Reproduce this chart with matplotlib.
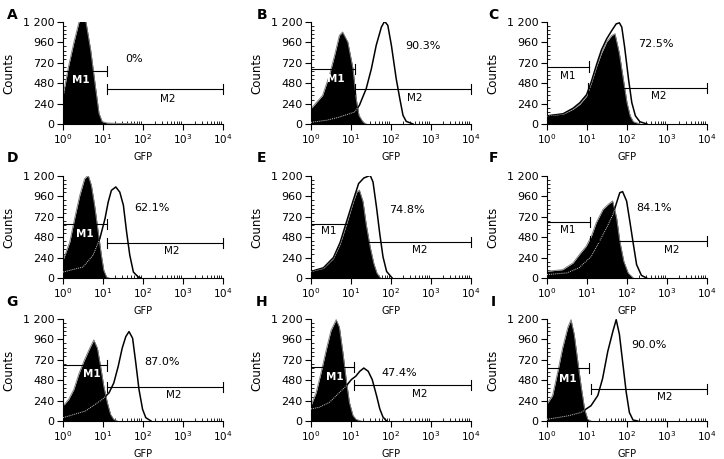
import numpy as np
import matplotlib
matplotlib.use("Agg")
import matplotlib.pyplot as plt
from matplotlib.ticker import FixedLocator, MultipleLocator, LogLocator, NullFormatter

# panel letters, top row first
panels = ["A", "B", "C", "D", "E", "F", "G", "H", "I"]

# control histogram (black filled): log10(GFP) and counts
ctrl_x = {
    "A": [0, 0.14, 0.27, 0.40, 0.44, 0.56, 0.69, 0.81, 0.90, 0.98, 1.10, 1.30, 1.50, 1.74, 1.85],
    "B": [0, 0.29, 0.46, 0.59, 0.71, 0.79, 0.92, 1.05, 1.13, 1.20, 1.30, 1.38],
    "C": [0, 0.40, 0.65, 0.82, 0.99, 1.11, 1.24, 1.36, 1.49, 1.62, 1.70, 1.81, 1.91, 2.00, 2.08, 2.16, 2.33],
    "D": [0, 0.17, 0.29, 0.42, 0.54, 0.63, 0.71, 0.79, 0.88, 0.96, 1.02, 1.09, 1.15],
    "E": [0, 0.31, 0.56, 0.73, 0.90, 1.06, 1.15, 1.21, 1.30, 1.38, 1.48, 1.57, 1.65, 1.74],
    "F": [0, 0.39, 0.65, 0.81, 0.98, 1.11, 1.23, 1.40, 1.53, 1.64, 1.74, 1.82, 1.92, 2.03, 2.16],
    "G": [0, 0.14, 0.27, 0.39, 0.52, 0.65, 0.77, 0.86, 0.94, 1.02, 1.11, 1.19, 1.27, 1.36],
    "H": [0, 0.13, 0.25, 0.38, 0.50, 0.63, 0.71, 0.80, 0.88, 0.96, 1.05, 1.13, 1.25],
    "I": [0, 0.14, 0.27, 0.39, 0.52, 0.60, 0.68, 0.77, 0.85, 0.94, 1.02, 1.10],
}
ctrl_y = {
    "A": [324, 680, 955, 1200, 1240, 1240, 876, 442, 126, 28, 12, 8, 6, 3, 0],
    "B": [180, 337, 573, 808, 1043, 1082, 965, 651, 298, 102, 24, 0],
    "C": [96, 116, 174, 232, 328, 483, 676, 830, 965, 1042, 1062, 830, 521, 251, 96, 27, 0],
    "D": [208, 424, 698, 973, 1169, 1208, 1090, 855, 541, 267, 90, 12, 0],
    "E": [77, 115, 230, 402, 651, 900, 1015, 1034, 900, 632, 364, 172, 57, 0],
    "F": [79, 98, 177, 276, 374, 492, 650, 807, 866, 906, 709, 433, 197, 59, 0],
    "G": [175, 253, 370, 545, 701, 838, 954, 857, 643, 409, 214, 78, 19, 0],
    "H": [181, 335, 565, 835, 1065, 1192, 1104, 796, 488, 219, 65, 19, 0],
    "I": [200, 300, 580, 860, 1100, 1192, 1020, 700, 420, 140, 20, 0],
}

# GFP histogram (open line)
gfp_x = {
    "A": [],
    "B": [0, 0.40, 0.71, 1.09, 1.21, 1.38, 1.51, 1.63, 1.76, 1.84, 1.92, 2.01, 2.13, 2.22, 2.30, 2.38, 2.55],
    "C": [0, 0.40, 0.65, 0.82, 0.99, 1.11, 1.24, 1.36, 1.49, 1.62, 1.73, 1.81, 1.87, 1.94, 2.04, 2.12, 2.21, 2.32, 2.50],
    "D": [0, 0.50, 0.75, 0.92, 1.05, 1.13, 1.21, 1.32, 1.42, 1.51, 1.59, 1.67, 1.76, 1.88, 1.95],
    "E": [0, 0.31, 0.56, 0.73, 0.90, 1.06, 1.19, 1.32, 1.48, 1.55, 1.64, 1.72, 1.80, 1.89, 2.03],
    "F": [0, 0.50, 0.80, 1.10, 1.30, 1.50, 1.65, 1.74, 1.82, 1.89, 1.99, 2.07, 2.16, 2.24, 2.36, 2.49],
    "G": [0, 0.56, 0.98, 1.15, 1.27, 1.38, 1.48, 1.57, 1.65, 1.74, 1.82, 1.90, 1.99, 2.07, 2.20],
    "H": [0, 0.21, 0.46, 0.71, 0.88, 1.01, 1.12, 1.22, 1.32, 1.43, 1.53, 1.64, 1.72, 1.80, 1.89],
    "I": [0, 0.52, 0.85, 1.10, 1.27, 1.39, 1.52, 1.65, 1.73, 1.81, 1.90, 1.98, 2.06, 2.15, 2.27],
}
gfp_y = {
    "A": [],
    "B": [20, 45, 82, 141, 220, 416, 651, 925, 1141, 1208, 1161, 925, 533, 298, 102, 31, 0],
    "C": [96, 120, 185, 250, 345, 500, 700, 870, 1000, 1100, 1178, 1190, 1139, 907, 521, 251, 96, 27, 0],
    "D": [70, 129, 267, 463, 698, 894, 1031, 1071, 1010, 855, 541, 267, 70, 12, 0],
    "E": [77, 120, 240, 420, 680, 920, 1111, 1176, 1207, 1130, 824, 517, 249, 77, 0],
    "F": [40, 60, 120, 250, 420, 600, 748, 886, 1004, 1016, 906, 669, 394, 157, 31, 0],
    "G": [39, 117, 253, 331, 448, 643, 857, 993, 1052, 974, 682, 370, 136, 39, 0],
    "H": [142, 162, 219, 335, 412, 488, 527, 585, 623, 585, 488, 296, 142, 46, 0],
    "I": [20, 60, 100, 180, 300, 500, 820, 1060, 1192, 1020, 660, 340, 100, 12, 0],
}

# gates: M1 from 10^0 to m1_end, M2 from m2_start to 10^4 (log10 units)
m1_end = {"A": 1.107, "B": 1.09, "C": 1.05, "D": 1.09, "E": 1.08, "F": 1.08, "G": 1.11, "H": 1.07, "I": 1.06}
m2_start = {"A": 1.107, "B": 1.09, "C": 1.03, "D": 1.09, "E": 1.08, "F": 1.08, "G": 1.09, "H": 1.07, "I": 1.09}
m1_y = {"A": 628, "B": 643, "C": 676, "D": 639, "E": 640, "F": 661, "G": 654, "H": 631, "I": 620}
m2_y = {"A": 410, "B": 416, "C": 425, "D": 412, "E": 421, "F": 433, "G": 401, "H": 419, "I": 380}

# percent of cells in M2
pct = {"A": "0%", "B": "90.3%", "C": "72.5%", "D": "62.1%", "E": "74.8%",
       "F": "84.1%", "G": "87.0%", "H": "47.4%", "I": "90.0%"}

y_ticks = [0, 240, 480, 720, 960, 1200]
y_ticklabels = ["0", "240", "480", "720", "960", "1 200"]
x_ticks = [1, 10, 100, 1000, 10000]
x_ticklabels = [r"$10^{0}$", r"$10^{1}$", r"$10^{2}$", r"$10^{3}$", r"$10^{4}$"]

# text placement (log10 x, counts)
pct_pos = {"A": (1.78, 766), "B": (2.80, 914), "C": (2.71, 938), "D": (2.23, 827), "E": (2.41, 805),
           "F": (2.68, 819), "G": (2.47, 693), "H": (2.21, 565), "I": (2.56, 900)}
m1_lab = {"A": (0.44, 520), "B": (0.63, 533), "C": (0.52, 568), "D": (0.54, 521), "E": (0.44, 548),
          "F": (0.52, 563), "G": (0.71, 557), "H": (0.59, 519), "I": (0.53, 500)}
m2_lab = {"A": (2.62, 292), "B": (2.59, 310), "C": (2.80, 328), "D": (2.72, 314), "E": (2.72, 326),
          "F": (3.12, 327), "G": (2.78, 304), "H": (2.73, 315), "I": (2.94, 288)}
m1_white = {"A": True, "B": True, "C": False, "D": True, "E": False, "F": False, "G": True, "H": True, "I": True}

W, H = 724, 459
col_left = [63, 311, 547]
row_top = [22, 176, 319]
ax_w, ax_h = 160, 102
letter_x = [12, 262, 493]
letter_y = [15, 158, 302]

plt.rcParams["font.family"] = "DejaVu Sans"
fig = plt.figure(figsize=(W / 100, H / 100), dpi=100)

for i, p in enumerate(panels):
    r, c = divmod(i, 3)
    ax = fig.add_axes([col_left[c] / W, 1 - (row_top[r] + ax_h) / H, ax_w / W, ax_h / H])
    ax.set_xscale("log")
    ax.set_xlim(1, 10000)
    ax.set_ylim(0, 1200)

    cx = 10 ** np.array(ctrl_x[p])
    cy = np.array(ctrl_y[p])
    poly = ax.fill_between(cx, 0, cy, color="black", lw=0, zorder=2)
    ax.plot(cx, cy, color="#808080", lw=0.7, zorder=2.5)

    if gfp_x[p]:
        gx = 10 ** np.array(gfp_x[p])
        gy = np.array(gfp_y[p])
        ax.plot(gx, gy, color="black", lw=1.1, zorder=3)
        # part of the GFP trace hidden under the filled control shows as a faint dotted line
        inner, = ax.plot(gx, gy, color="#c8c8c8", lw=0.7, ls=(0, (1, 1)), zorder=3.5)
        inner.set_clip_path(poly.get_paths()[0], ax.transData)

    # markers
    e1 = 10 ** m1_end[p]
    s2 = 10 ** m2_start[p]
    ax.plot([1, e1], [m1_y[p]] * 2, color="black", lw=0.8, zorder=4)
    ax.plot([e1, e1], [m1_y[p] - 60, m1_y[p] + 60], color="black", lw=0.8, zorder=4)
    ax.plot([s2, 10000], [m2_y[p]] * 2, color="black", lw=0.8, zorder=4)
    for xe in (s2, 10000):
        ax.plot([xe, xe], [m2_y[p] - 60, m2_y[p] + 60], color="black", lw=0.8, zorder=4, clip_on=False)

    lx, ly = m1_lab[p]
    if m1_white[p]:
        ax.text(10 ** lx, ly, "M1", color="white", fontsize=7.5, fontweight="bold", ha="center", va="center", zorder=5)
    else:
        ax.text(10 ** lx, ly, "M1", color="black", fontsize=7.5, ha="center", va="center", zorder=5)
    lx, ly = m2_lab[p]
    ax.text(10 ** lx, ly, "M2", color="black", fontsize=7.5, ha="center", va="center", zorder=5)
    lx, ly = pct_pos[p]
    ax.text(10 ** lx, ly, pct[p], color="black", fontsize=8, ha="center", va="center", zorder=5)

    # axes look
    for s in ("top", "right"):
        ax.spines[s].set_visible(False)
    for s in ("left", "bottom"):
        ax.spines[s].set_linewidth(0.8)
    ax.yaxis.set_major_locator(FixedLocator(y_ticks))
    ax.set_yticklabels(y_ticklabels)
    ax.yaxis.set_minor_locator(MultipleLocator(48))
    ax.xaxis.set_major_locator(FixedLocator(x_ticks))
    ax.set_xticklabels(x_ticklabels)
    ax.xaxis.set_minor_locator(LogLocator(base=10, subs=np.arange(2, 10)))
    ax.xaxis.set_minor_formatter(NullFormatter())
    ax.tick_params(axis="both", which="major", direction="out", length=4, width=0.8, pad=2)
    ax.tick_params(axis="y", which="major", labelsize=8)
    ax.tick_params(axis="x", which="major", labelsize=7.5)
    ax.tick_params(axis="both", which="minor", direction="in", length=2.5, width=0.6)

    ax.set_ylabel("Counts", fontsize=8.5)
    ax.yaxis.set_label_coords(-0.30, 0.5)
    ax.set_xlabel("GFP", fontsize=7)
    ax.xaxis.set_label_coords(0.5, -0.27)

    fig.text(letter_x[c] / W, 1 - letter_y[r] / H, p, fontsize=10, fontweight="bold", ha="center", va="center")

fig.savefig("out.png", dpi=100)
plt.close(fig)
